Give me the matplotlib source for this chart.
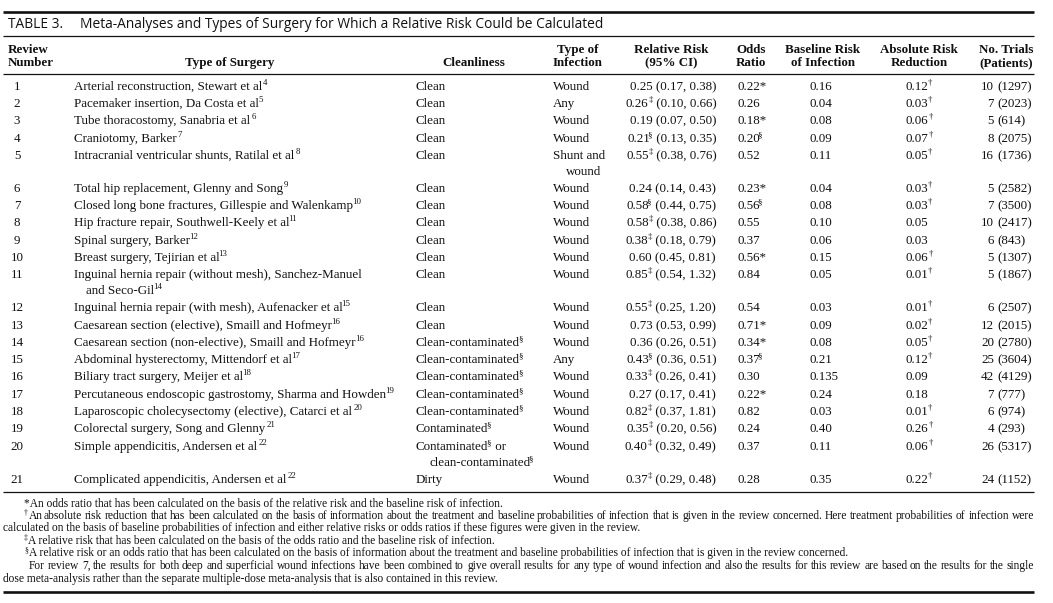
import numpy as np
import matplotlib
matplotlib.use("Agg")
import matplotlib.pyplot as plt

## TABLE DATA
title_label = "TABLE 3."
title_text = "Meta-Analyses and Types of Surgery for Which a Relative Risk Could be Calculated"

review = ["1", "2", "3", "4", "5", "6", "7", "8", "9", "10", "11",
          "12", "13", "14", "15", "16", "17", "18", "19", "20", "21"]
surgery = ["Arterial reconstruction, Stewart et al",
           "Pacemaker insertion, Da Costa et al",
           "Tube thoracostomy, Sanabria et al",
           "Craniotomy, Barker",
           "Intracranial ventricular shunts, Ratilal et al",
           "Total hip replacement, Glenny and Song",
           "Closed long bone fractures, Gillespie and Walenkamp",
           "Hip fracture repair, Southwell-Keely et al",
           "Spinal surgery, Barker",
           "Breast surgery, Tejirian et al",
           "Inguinal hernia repair (without mesh), Sanchez-Manuel\nand Seco-Gil",
           "Inguinal hernia repair (with mesh), Aufenacker et al",
           "Caesarean section (elective), Smaill and Hofmeyr",
           "Caesarean section (non-elective), Smaill and Hofmeyr",
           "Abdominal hysterectomy, Mittendorf et al",
           "Biliary tract surgery, Meijer et al",
           "Percutaneous endoscopic gastrostomy, Sharma and Howden",
           "Laparoscopic cholecysectomy (elective), Catarci et al",
           "Colorectal surgery, Song and Glenny",
           "Simple appendicitis, Andersen et al",
           "Complicated appendicitis, Andersen et al"]
refs = ["4", "5", "6", "7", "8", "9", "10", "11", "12", "13", "14",
        "15", "16", "16", "17", "18", "19", "20", "21", "22", "22"]
cleanliness = ["Clean"] * 13 + ["Clean-contaminated\u00a7"] * 5 + \
              ["Contaminated\u00a7", "Contaminated\u00a7 or\nclean-contaminated\u00a7", "Dirty"]
infection = ["Wound", "Any", "Wound", "Wound", "Shunt and\nwound", "Wound", "Wound",
             "Wound", "Wound", "Wound", "Wound", "Wound", "Wound", "Wound", "Any",
             "Wound", "Wound", "Wound", "Wound", "Wound", "Wound"]
rr = ["0.25", "0.26", "0.19", "0.21", "0.55", "0.24", "0.58", "0.58", "0.38", "0.60", "0.85",
      "0.55", "0.73", "0.36", "0.43", "0.33", "0.27", "0.82", "0.35", "0.40", "0.37"]
rr_mark = ["", "\u2021", "", "\u00a7", "\u2021", "", "\u00a7", "\u2021", "\u2021", "", "\u2021",
           "\u2021", "", "", "\u00a7", "\u2021", "", "\u2021", "\u2021", "\u2021", "\u2021"]
rr_ci = ["(0.17, 0.38)", "(0.10, 0.66)", "(0.07, 0.50)", "(0.13, 0.35)", "(0.38, 0.76)",
         "(0.14, 0.43)", "(0.44, 0.75)", "(0.38, 0.86)", "(0.18, 0.79)", "(0.45, 0.81)",
         "(0.54, 1.32)", "(0.25, 1.20)", "(0.53, 0.99)", "(0.26, 0.51)", "(0.36, 0.51)",
         "(0.26, 0.41)", "(0.17, 0.41)", "(0.37, 1.81)", "(0.20, 0.56)", "(0.32, 0.49)",
         "(0.29, 0.48)"]
odds = ["0.22*", "0.26", "0.18*", "0.20\u00a7", "0.52", "0.23*", "0.56\u00a7", "0.55", "0.37",
        "0.56*", "0.84", "0.54", "0.71*", "0.34*", "0.37\u00a7", "0.30", "0.22*", "0.82",
        "0.24", "0.37", "0.28"]
baseline = ["0.16", "0.04", "0.08", "0.09", "0.11", "0.04", "0.08", "0.10", "0.06", "0.15",
            "0.05", "0.03", "0.09", "0.08", "0.21", "0.135", "0.24", "0.03", "0.40", "0.11",
            "0.35"]
arr = ["0.12\u2020", "0.03\u2020", "0.06\u2020", "0.07\u2020", "0.05\u2020", "0.03\u2020",
       "0.03\u2020", "0.05", "0.03", "0.06\u2020", "0.01\u2020", "0.01\u2020", "0.02\u2020",
       "0.05\u2020", "0.12\u2020", "0.09", "0.18", "0.01\u2020", "0.26\u2020", "0.06\u2020",
       "0.22\u2020"]
trials = ["10", "7", "5", "8", "16", "5", "7", "10", "6", "5", "5",
          "6", "12", "20", "25", "42", "7", "6", "4", "26", "24"]
patients = ["1297", "2023", "614", "2075", "1736", "2582", "3500", "2417", "843", "1307",
            "1867", "2507", "2015", "2780", "3604", "4129", "777", "974", "293", "5317", "1152"]

footnotes = [
    "*An odds ratio that has been calculated on the basis of the relative risk and the baseline risk of infection.",
    "\u2020An absolute risk reduction that has been calculated on the basis of information about the treatment and baseline probabilities of infection that is given in the review concerned. Here treatment probabilities of infection were",
    "calculated on the basis of baseline probabilities of infection and either relative risks or odds ratios if these figures were given in the review.",
    "\u2021A relative risk that has been calculated on the basis of the odds ratio and the baseline risk of infection.",
    "\u00a7A relative risk or an odds ratio that has been calculated on the basis of information about the treatment and baseline probabilities of infection that is given in the review concerned.",
    "For review 7, the results for both deep and superficial wound infections have been combined to give overall results for any type of wound infection and also the results for this review are based on the results for the single",
    "dose meta-analysis rather than the separate multiple-dose meta-analysis that is also contained in this review.",
]

## LAYOUT (pixels)
row_y = [86, 103, 120, 138, 155, 188, 205, 222, 240, 257, 274, 307, 325, 342, 359, 376,
         394, 411, 428, 446, 479]
foot_y = [503, 515, 527, 540, 552, 565, 578]
foot_x = [24, 24, 3, 24, 24, 29, 3]
foot_just = [False, True, False, False, False, True, False]
LINE2 = 16
BASE = 4
FS = 9.35
FS_FOOT = 8.3
INK = '#111111'
SER = 'Liberation Serif'
MARKS = "\u2020\u2021\u00a7"
GAP = 1.2


def split_marks(s):
    # split a string into (text, is_superscript) runs
    parts = []
    buf = ""
    for ch in s:
        if ch in MARKS:
            if buf:
                parts.append((buf, False))
                buf = ""
            parts.append((ch, True))
        else:
            buf += ch
    if buf:
        parts.append((buf, False))
    return parts


## scratch canvas to measure where the ink of a run really sits
scratch = plt.figure(figsize=(12, 0.6), dpi=100)
probe = scratch.text(10 / 1200, 0.5, "", va='baseline', color='black')
_ink = {}


def ink(s, fs, weight, family):
    key = (s, fs, weight, family)
    if key not in _ink:
        probe.set_text(s)
        probe.set_fontsize(fs)
        probe.set_fontweight(weight)
        probe.set_family(family)
        scratch.canvas.draw()
        a = np.asarray(scratch.canvas.buffer_rgba())[:, :, 0]
        cols = np.where((a < 200).any(axis=0))[0]
        _ink[key] = (cols[0] - 10.0, cols[-1] + 1 - 10.0) if len(cols) else (0.0, 0.0)
    return _ink[key]


fig = plt.figure(figsize=(10.53, 6.03), dpi=100)
ax = fig.add_axes([0, 0, 1, 1])
ax.set_xlim(0, 1053)
ax.set_ylim(603, 0)
ax.axis('off')
rend = fig.canvas.get_renderer()


def layout(parts, size, weight, family):
    # pen position of each run, plus ink extent of the whole group
    runs = []
    pen, left, right = 0.0, None, None
    for p, is_sup in parts:
        fs = size * 0.68 if is_sup else size
        dy = size * 100 / 72 * 0.36 if is_sup else 0
        l, r = ink(p, fs, weight, family)
        if right is not None:
            pen = right + GAP - l if is_sup else right + 0.4
        runs.append((p, fs, dy, pen))
        if left is None:
            left = pen + l
        right = pen + r
    return runs, left, right


def txt(x, y, s, ha='left', size=FS, weight='normal', family=SER, ref=None):
    parts = split_marks(s)
    if ref:
        parts.append((ref, True))
    if len(parts) == 1:
        ax.text(x, y + BASE, s, ha=ha, va='baseline', fontsize=size,
                fontweight=weight, family=family, color=INK)
        return
    runs, left, right = layout(parts, size, weight, family)
    if ha == 'right':
        x0 = x - right
    elif ha == 'center':
        x0 = x - (left + right) / 2
    else:
        x0 = x
    for p, fs, dy, pen in runs:
        ax.text(x0 + pen, y + BASE - dy, p, ha='left', va='baseline', fontsize=fs,
                fontweight=weight, family=family, color=INK)


def width(w, size):
    parts = split_marks(w)
    if len(parts) == 1:
        t = ax.text(0, 0, w, fontsize=size, family=SER)
        wd = t.get_window_extent(rend).width
        t.remove()
        return wd
    return layout(parts, size, 'normal', SER)[2]


def justify(x0, x1, y, s, size):
    words = s.split(' ')
    widths = [width(w, size) for w in words]
    gap = (x1 - x0 - sum(widths)) / (len(words) - 1)
    x = x0
    for w, wd in zip(words, widths):
        txt(x, y, w, size=size)
        x += wd + gap


## RULES
X0, X1 = 3, 1034
for ry, lw in [(12, 1.9), (36, 0.9), (74, 0.9), (492, 0.9), (592, 1.9)]:
    ax.plot([X0, X1], [ry, ry], color=INK, lw=lw, solid_capstyle='butt')

## TITLE
txt(8, 24, title_label, size=9.95, family='Open Sans')
txt(80, 24, title_text, size=9.95, family='Open Sans')

## HEADER
H1, H2 = 49, 62
txt(8, H1, "Review", weight='bold')
txt(8, H2, "Number", weight='bold')
txt(230, H2, "Type of Surgery", ha='center', weight='bold')
txt(474, H2, "Cleanliness", ha='center', weight='bold')
heads = [(578, "Type of", "Infection"), (671, "Relative Risk", "(95% CI)"),
         (751, "Odds", "Ratio"), (823, "Baseline Risk", "of Infection"),
         (919, "Absolute Risk", "Reduction"), (1006, "No. Trials", "(Patients)")]
for hx, a, b in heads:
    txt(hx, H1, a, ha='center', weight='bold')
    txt(hx, H2, b, ha='center', weight='bold')

## BODY
for i, y in enumerate(row_y):
    txt(17, y, review[i], ha='center')
    lines = surgery[i].split('\n')
    for j, ln in enumerate(lines):
        txt(74 + (12 if j else 0), y + j * LINE2, ln,
            ref=refs[i] if j == len(lines) - 1 else None)
    for j, ln in enumerate(cleanliness[i].split('\n')):
        txt(416 + (13 if j else 0), y + j * LINE2, ln)
    for j, ln in enumerate(infection[i].split('\n')):
        txt(553 + (13 if j else 0), y + j * LINE2, ln)
    txt(716, y, rr[i] + rr_mark[i] + " " + rr_ci[i], ha='right')
    txt(737, y, odds[i])
    txt(809, y, baseline[i])
    txt(906, y, arr[i])
    txt(994, y, trials[i], ha='right')
    txt(997, y, "(" + patients[i] + ")")

## FOOTNOTES
for s, y, x, j in zip(footnotes, foot_y, foot_x, foot_just):
    if j:
        justify(x, X1, y, s, FS_FOOT)
    else:
        txt(x, y, s, size=FS_FOOT)

plt.close(scratch)
fig.savefig("out.png", dpi=100)
